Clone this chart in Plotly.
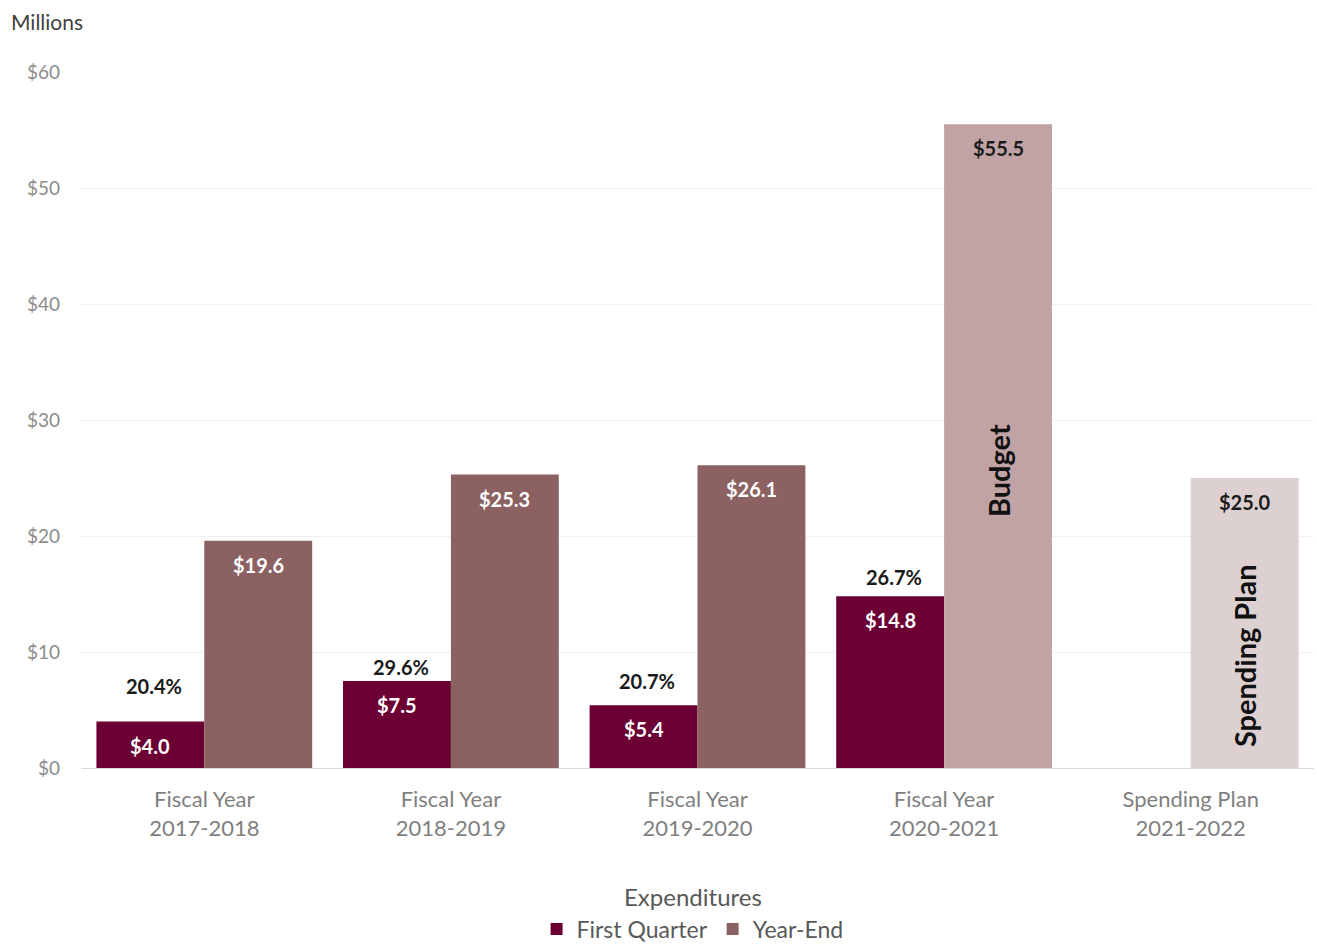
import plotly.graph_objects as go

# Category labels and values (millions of dollars)
categories = ["Fiscal Year<br>2017-2018", "Fiscal Year<br>2018-2019", "Fiscal Year<br>2019-2020",
              "Fiscal Year<br>2020-2021", "Spending Plan<br>2021-2022"]
first_quarter = [4.0, 7.5, 5.4, 14.8, None]
year_end = [19.6, 25.3, 26.1, 55.5, 25.0]
pct_of_year = ["20.4%", "29.6%", "20.7%", "26.7%", None]
yend_tags = [None, None, None, "Budget", "Spending Plan"]
y_ticks = [0, 10, 20, 30, 40, 50, 60]

# Styling
FONT = "Lato"
FQ_COLOR = "#6c0034"
YE_COLORS = ["#8b6162", "#8b6162", "#8b6162", "#c1a2a5", "#dcd0d1"]
YE_TEXT = ["white", "white", "white", "#1a1a1a", "#1a1a1a"]
pct_shift = [36, 14, 24, 19]
tag_pos = [None, None, None, 25.6, 9.7]

x = list(range(len(categories)))
half = 0.875 / 4  # centre offset of each bar in its group

fig = go.Figure()
fig.add_trace(go.Bar(name="First Quarter", x=x, y=first_quarter, marker_color=FQ_COLOR,
                     marker_line_width=0))
fig.add_trace(go.Bar(name="Year-End", x=x, y=year_end, marker_color=YE_COLORS,
                     marker_line_width=0))

annotations = []
for i, v in enumerate(first_quarter):
    if v is None:
        continue
    annotations.append(dict(x=i - half, y=v, text=f"<b>${v:.1f}</b>", showarrow=False,
                            yanchor="top", yshift=-10,
                            font=dict(family=FONT, size=20, color="white")))
    annotations.append(dict(x=i - half + 0.015, y=v, text=f"<b>{pct_of_year[i]}</b>",
                            showarrow=False, yanchor="middle", yshift=pct_shift[i],
                            font=dict(family=FONT, size=20, color="#1a1a1a")))
for i, v in enumerate(year_end):
    annotations.append(dict(x=i + half, y=v, text=f"<b>${v:.1f}</b>", showarrow=False,
                            yanchor="top", yshift=-10,
                            font=dict(family=FONT, size=20, color=YE_TEXT[i])))
    if yend_tags[i]:
        annotations.append(dict(x=i + half, y=tag_pos[i], text=f"<b>{yend_tags[i]}</b>",
                                showarrow=False, textangle=-90,
                                font=dict(family=FONT, size=29, color="#111111")))

annotations.append(dict(xref="paper", yref="paper", x=-0.058, y=1.072, xanchor="left",
                        yanchor="middle", text="Millions", showarrow=False,
                        font=dict(family=FONT, size=21, color="#404040")))
# legend heading
annotations.append(dict(xref="paper", yref="paper", x=0.496, y=-0.1853, xanchor="center",
                        yanchor="middle", text="Expenditures", showarrow=False,
                        font=dict(family=FONT, size=24, color="#595959")))

fig.update_layout(
    width=1317, height=947,
    margin=dict(l=81, r=3, t=72, b=179, autoexpand=False),
    paper_bgcolor="white", plot_bgcolor="white",
    barmode="group", bargap=0.125, bargroupgap=0,
    font=dict(family=FONT, color="#7f7f7f"),
    annotations=annotations,
    legend=dict(orientation="h", x=0.496, xanchor="center", y=-0.2313, yanchor="middle",
                font=dict(family=FONT, size=23, color="#595959"),
                itemsizing="constant", traceorder="normal"),
    showlegend=True,
)
fig.update_xaxes(tickvals=x, ticktext=categories, range=[-0.5, len(categories) - 0.5],
                 showgrid=False, showline=True, linecolor="#d9d9d9", ticks="",
                 ticklabelstandoff=12, automargin=False,
                 tickfont=dict(family=FONT, size=22, color="#7f7f7f"))
fig.update_yaxes(range=[0, 60], tickvals=y_ticks, ticktext=[f"${t}" for t in y_ticks],
                 showgrid=True, gridcolor="#f0f0f0", zeroline=False, ticks="",
                 ticklabelstandoff=20, automargin=False,
                 tickfont=dict(family=FONT, size=19, color="#8c8c8c"))

fig.write_html("out.html")
